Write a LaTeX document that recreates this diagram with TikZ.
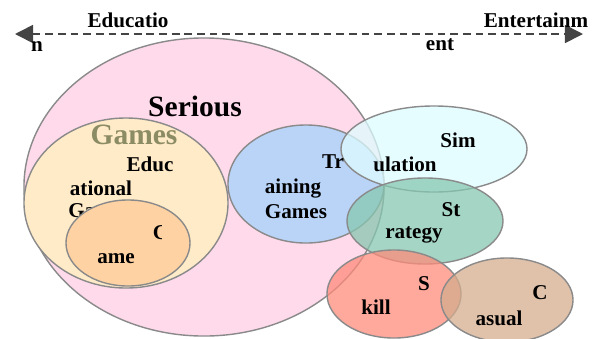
\documentclass[tikz,border=0pt]{standalone}
\usepackage{fontspec}
\setmainfont{Liberation Serif}
\newfontfamily\timesbold{Liberation Serif Bold}
\usetikzlibrary{arrows.meta,shapes.geometric}
\definecolor{pinkfill}{RGB}{255,218,235}
\definecolor{yellowfill}{RGB}{255,235,200}
\definecolor{orangefill}{RGB}{255,210,164}
\definecolor{bluefill}{RGB}{186,212,248}
\definecolor{cyanfill}{RGB}{222,252,255}
\definecolor{greenfill}{RGB}{135,199,176}
\definecolor{redfill}{RGB}{255,139,123}
\definecolor{tanfill}{RGB}{213,172,141}
\definecolor{edgegrey}{RGB}{138,138,138}
\definecolor{arrowgrey}{RGB}{68,68,68}
\definecolor{olive}{RGB}{140,140,100}
\begin{document}
\begin{tikzpicture}[x=0.025cm,y=-0.025cm,>={Triangle[length=0.45cm,width=0.45cm]}]
  \tikzstyle{set}=[draw=edgegrey,line width=1pt,ellipse,inner sep=0pt]
  \tikzstyle{soft}=[set,fill opacity=0.75]
  \tikzstyle{lbl}=[inner sep=0pt,font=\timesbold\fontsize{15}{18}\selectfont]
  \tikzstyle{big}=[inner sep=0pt,font=\timesbold\fontsize{21}{25}\selectfont]
  \useasboundingbox (0,0) rectangle (601,338);
  \clip (0,0) rectangle (601,338);
  % axis
  \coordinate (edu) at (15,34);
  \coordinate (ent) at (583,34);
  \draw[<->,arrowgrey,line width=1.2pt,dash pattern=on 5.5pt off 3.5pt] (edu) -- (ent);
  \node[lbl] (edutop) at (128,20) {Educatio};
  \node[lbl] (edubot) at (37,47) {n};
  \node[lbl] (enttop) at (536,20) {Entertainm};
  \node[lbl] (entbot) at (440,45) {ent};
  % sets
  \node[set,fill=pinkfill,minimum width=9cm,minimum height=7.45cm] (serious) at (204,187) {};
  \node[set,fill=yellowfill,minimum width=5.1cm,minimum height=4.25cm] (edugames) at (126,203) {};
  \node[lbl,anchor=west] (edulbl3) at (68,211) {Games};
  \node[set,fill=orangefill,minimum width=3.1cm,minimum height=2.15cm] (game) at (128,243) {};
  \node[set,fill=bluefill,minimum width=3.9cm,minimum height=2.95cm] (training) at (306,184) {};
  \node[soft,fill=cyanfill,minimum width=4.65cm,minimum height=2.15cm] (simulation) at (434,149) {};
  \node[soft,fill=greenfill,minimum width=3.9cm,minimum height=2.15cm] (strategy) at (425,221) {};
  \node[soft,fill=redfill,minimum width=3.35cm,minimum height=2.2cm] (skill) at (394,294) {};
  \node[soft,fill=tanfill,minimum width=3.3cm,minimum height=2.1cm] (casual) at (507,300) {};
  % labels
  \node[big] (serlbl) at (195,106) {Serious};
  \node[big,text=olive] (gameslbl) at (134,135) {Games};
  \node[lbl] (edulbl1) at (150,164) {Educ};
  \node[lbl] (edulbl2) at (101,188) {ational};
  \begin{scope}
    \clip (150,220) rectangle (161,250);
    \node[lbl] (gamelbl1) at (161,233) {G};
  \end{scope}
  \node[lbl] (gamelbl2) at (116,259) {ame};
  \node[lbl] (trlbl1) at (333,162) {Tr};
  \node[lbl] (trlbl2) at (293,189) {aining};
  \node[lbl] (trlbl3) at (296,212) {Games};
  \node[lbl] (simlbl1) at (458,140) {Sim};
  \node[lbl] (simlbl2) at (405,164) {ulation};
  \node[lbl] (stlbl1) at (451,210) {St};
  \node[lbl] (stlbl2) at (414,235) {rategy};
  \node[lbl] (sklbl1) at (424,284) {S};
  \node[lbl] (sklbl2) at (376,307) {kill};
  \node[lbl] (calbl1) at (540,293) {C};
  \node[lbl] (calbl2) at (499,318) {asual};
\end{tikzpicture}
\end{document}
